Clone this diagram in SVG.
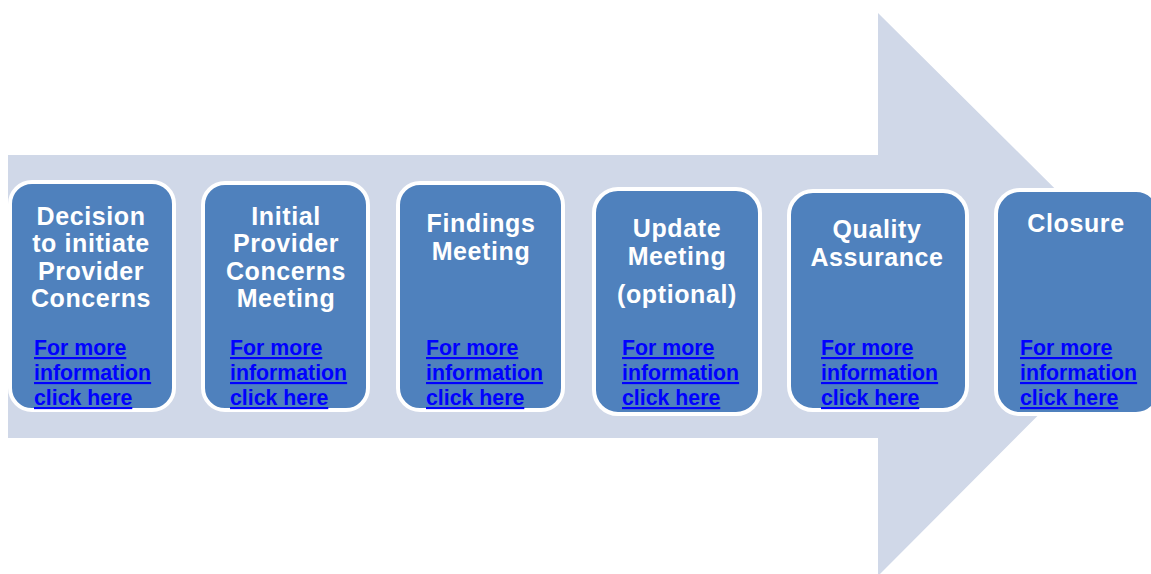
<svg xmlns="http://www.w3.org/2000/svg" width="1151" height="574" viewBox="0 0 1151 574">
<style>
.box{fill:#4F81BD;stroke:#FFFFFF;stroke-width:4}
.t{font-family:"Liberation Sans",Arial,sans-serif;font-weight:bold;font-size:25px;letter-spacing:0.6px;fill:#FFFFFF;text-anchor:middle}
.l{font-family:"Liberation Sans",Arial,sans-serif;font-weight:bold;font-size:21.3px;fill:#0000FF;text-decoration:underline}
</style>
<rect width="1151" height="574" fill="#FFFFFF"/>
<g id="connectors">
<polygon points="8,155 878,155 878,13 1160,293 878,576 878,438 8,438" fill="#D0D8E8"/>
</g>
<g id="n1">
<rect class="box" x="10" y="182" width="164" height="228" rx="22"/>
<text class="t" x="91" y="225">Decision</text>
<text class="t" x="91" y="252">to initiate</text>
<text class="t" x="91" y="280">Provider</text>
<text class="t" x="91" y="307">Concerns</text>
<text class="l" x="34" y="355">For more</text>
<text class="l" x="34" y="380">information</text>
<text class="l" x="34" y="405">click here</text>
</g>
<g id="n2">
<rect class="box" x="203" y="183" width="165" height="227" rx="22"/>
<text class="t" x="286" y="225">Initial</text>
<text class="t" x="286" y="252">Provider</text>
<text class="t" x="286" y="280">Concerns</text>
<text class="t" x="286" y="307">Meeting</text>
<text class="l" x="230" y="355">For more</text>
<text class="l" x="230" y="380">information</text>
<text class="l" x="230" y="405">click here</text>
</g>
<g id="n3">
<rect class="box" x="398" y="183" width="165" height="227" rx="22"/>
<text class="t" x="481" y="232">Findings</text>
<text class="t" x="481" y="260">Meeting</text>
<text class="l" x="426" y="355">For more</text>
<text class="l" x="426" y="380">information</text>
<text class="l" x="426" y="405">click here</text>
</g>
<g id="n4">
<rect class="box" x="594" y="189" width="166" height="225" rx="24"/>
<text class="t" x="677" y="237">Update</text>
<text class="t" x="677" y="265">Meeting</text>
<text class="t" x="677" y="303">(optional)</text>
<text class="l" x="622" y="355">For more</text>
<text class="l" x="622" y="380">information</text>
<text class="l" x="622" y="405">click here</text>
</g>
<g id="n5">
<rect class="box" x="789" y="191" width="178" height="219" rx="24"/>
<text class="t" x="877" y="238">Quality</text>
<text class="t" x="877" y="266">Assurance</text>
<text class="l" x="821" y="355">For more</text>
<text class="l" x="821" y="380">information</text>
<text class="l" x="821" y="405">click here</text>
</g>
<g id="n6">
<rect class="box" x="996" y="190" width="164" height="224" rx="24"/>
<text class="t" x="1076" y="232">Closure</text>
<text class="l" x="1020" y="355">For more</text>
<text class="l" x="1020" y="380">information</text>
<text class="l" x="1020" y="405">click here</text>
</g>
</svg>
